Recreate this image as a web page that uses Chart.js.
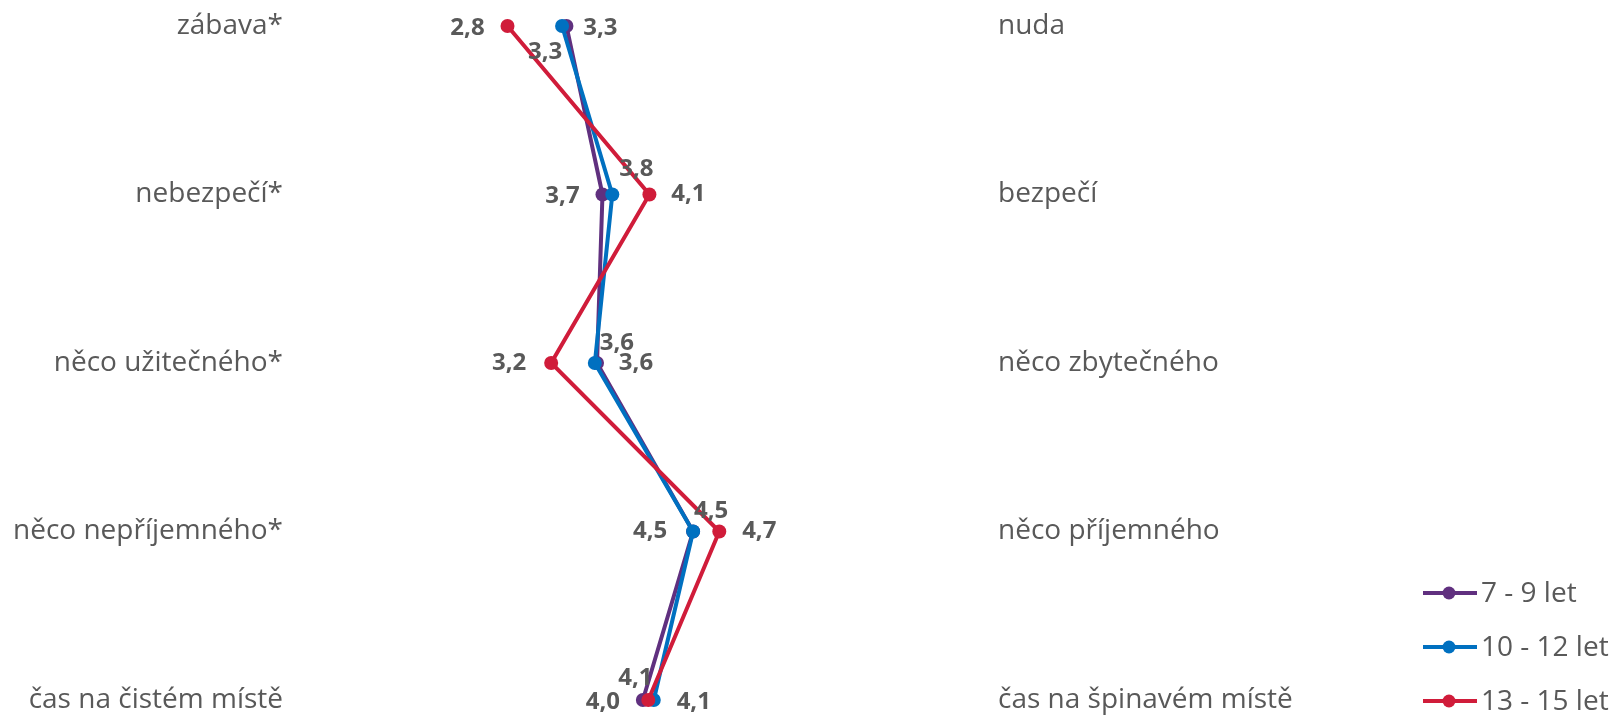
<!DOCTYPE html>
<html lang="cs">

<head>
  <meta charset="UTF-8" />
  <title>Profil</title>
  <script src="https://cdn.jsdelivr.net/npm/chart.js"></script>
  <style>
    html, body { margin: 0; padding: 0; background: #fff; }
    #wrap { position: relative; width: 1616px; height: 718px; }
  </style>
</head>

<body>
  <div id="wrap">
    <canvas id="profileChart"></canvas>
  </div>

  <script>
    const leftLabels = ['zábava*', 'nebezpečí*', 'něco užitečného*', 'něco nepříjemného*', 'čas na čistém místě'];
    const rightLabels = ['nuda', 'bezpečí', 'něco zbytečného', 'něco příjemného', 'čas na špinavém místě'];
    const seriesNames = ['7 - 9 let', '10 - 12 let', '13 - 15 let'];
    const age7to9 = [3.34, 3.67, 3.62, 4.5, 4.04];
    const age10to12 = [3.3, 3.76, 3.6, 4.5, 4.14];
    const age13to15 = [2.8, 4.1, 3.2, 4.74, 4.09];

    const colors = ['#60307f', '#0070c0', '#d01c3a'];
    const labelGrey = '#595959';
    const fontFamily = '"Open Sans", "DejaVu Sans", sans-serif';

    // label offsets relative to the point, per series and row
    const offsets = [
      [[34, 2], [-40, 2], [39, 0], [-43, 0], [-40, 2]],
      [[-17, 26], [24, -25], [22, -20], [18, -20], [40, 2]],
      [[-40, 2], [39, 0], [-42, 0], [40, 0], [-13, -22]]
    ];

    const valueLabels = {
      id: 'valueLabels',
      afterDatasetsDraw(chart) {
        const ctx = chart.ctx;
        ctx.save();
        ctx.font = 'bold 24px ' + fontFamily;
        ctx.fillStyle = labelGrey;
        ctx.textAlign = 'center';
        ctx.textBaseline = 'middle';
        chart.data.datasets.forEach((ds, di) => {
          chart.getDatasetMeta(di).data.forEach((pt, i) => {
            const o = offsets[di][i];
            ctx.fillText(ds.data[i].toFixed(1).replace('.', ','), pt.x + o[0], pt.y + o[1]);
          });
        });
        ctx.restore();
      }
    };

    const lineLegend = {
      id: 'lineLegend',
      afterDraw(chart) {
        const ctx = chart.ctx;
        ctx.save();
        ctx.font = '28px ' + fontFamily;
        ctx.textBaseline = 'middle';
        chart.data.datasets.forEach((ds, i) => {
          const y = 593 + i * 54;
          ctx.strokeStyle = ds.borderColor;
          ctx.lineWidth = 4;
          ctx.beginPath();
          ctx.moveTo(1423, y);
          ctx.lineTo(1477, y);
          ctx.stroke();
          ctx.fillStyle = ds.borderColor;
          ctx.beginPath();
          ctx.arc(1449, y, 6.5, 0, Math.PI * 2);
          ctx.fill();
          ctx.fillStyle = labelGrey;
          ctx.fillText(ds.label, 1481, y + 1);
        });
        ctx.restore();
      }
    };

    const makeSet = (i, data, order) => ({
      label: seriesNames[i],
      data: data,
      borderColor: colors[i],
      backgroundColor: colors[i],
      borderWidth: 4,
      pointRadius: 7,
      pointHoverRadius: 7,
      pointBorderWidth: 0,
      tension: 0,
      clip: false,
      order: order
    });

    const noEdgePadding = (w) => (scale) => {
      scale.width = w;
      scale.paddingTop = 0;
      scale.paddingBottom = 0;
    };

    new Chart(document.getElementById('profileChart'), {
      type: 'line',
      data: {
        labels: leftLabels,
        datasets: [
          makeSet(0, age7to9, 2),
          makeSet(1, age10to12, 1),
          makeSet(2, age13to15, 0)
        ]
      },
      options: {
        indexAxis: 'y',
        responsive: true,
        maintainAspectRatio: false,
        animation: false,
        layout: { padding: { top: 26, bottom: 18, left: 0, right: 0 } },
        plugins: { legend: { display: false }, tooltip: { enabled: false } },
        scales: {
          x: { type: 'linear', min: 1, max: 7, display: false },
          y: {
            type: 'category',
            position: 'left',
            offset: false,
            grid: { display: false, drawTicks: false },
            border: { display: false },
            ticks: { color: labelGrey, padding: 28, font: { family: fontFamily, size: 28 } },
            afterFit: noEdgePadding(311)
          },
          y2: {
            type: 'category',
            position: 'right',
            labels: rightLabels,
            offset: false,
            grid: { display: false, drawTicks: false },
            border: { display: false },
            ticks: { color: labelGrey, padding: 32, font: { family: fontFamily, size: 28 } },
            afterFit: noEdgePadding(650)
          }
        }
      },
      plugins: [valueLabels, lineLegend]
    });
  </script>
</body>

</html>
